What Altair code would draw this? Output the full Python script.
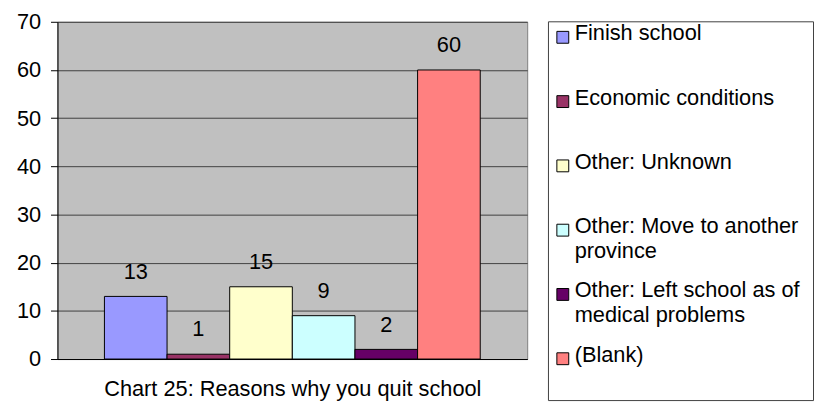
import altair as alt
import pandas as pd

reasons = ["Finish school", "Economic conditions", "Other: Unknown",
           "Other: Move to another province",
           "Other: Left school as of medical problems", "(Blank)"]
counts = [13, 1, 15, 9, 2, 60]
colors = ["#9999FF", "#993366", "#FFFFCC", "#CCFFFF", "#660066", "#FF8080"]
legend_labels = ["Finish school", "Economic conditions", "Other: Unknown",
                 "Other: Move to another\nprovince",
                 "Other: Left school as of\nmedical problems", "(Blank)"]
y_ticks = [0, 10, 20, 30, 40, 50, 60, 70]
title_text = "Chart 25: Reasons why you quit school"

FONT = "Liberation Sans"
FS = 22

bars_df = pd.DataFrame({"reason": reasons, "count": counts})
legend_df = pd.DataFrame({"reason": reasons, "label": legend_labels})

color = alt.Color("reason:N", scale=alt.Scale(domain=reasons, range=colors), legend=None)

x = alt.X("reason:N", sort=reasons,
          scale=alt.Scale(paddingInner=0, paddingOuter=0.75),
          axis=alt.Axis(labels=False, ticks=False, grid=False, domainColor="black",
                        title=title_text, titleFont=FONT, titleFontSize=FS,
                        titleFontWeight="normal", titleColor="black", titlePadding=20))
y = alt.Y("count:Q", scale=alt.Scale(domain=[0, 70], nice=False),
          axis=alt.Axis(values=y_ticks, title=None, domainColor="black", tickColor="black",
                        tickSize=7, labelFont=FONT, labelFontSize=FS, labelColor="black",
                        labelPadding=10, gridColor="#404040", gridOpacity=1, gridWidth=1))

bars = alt.Chart(bars_df).mark_bar(stroke="black", strokeWidth=1, opacity=1).encode(
    x=x, y=y, color=color)
labels = alt.Chart(bars_df).mark_text(dy=-18, baseline="alphabetic", fontSize=FS, font=FONT,
                                      color="black").encode(x=x, y=y, text="count:Q")
plot = alt.layer(bars, labels).properties(
    width=475, height=341,
    view=alt.ViewBackground(fill="#C0C0C0", stroke="#808080", strokeWidth=1))

ly = alt.Y("reason:N", sort=reasons,
           scale=alt.Scale(type="point", padding=0.446, align=0.21), axis=None)
swatches = alt.Chart(legend_df).mark_square(size=144, stroke="black", strokeWidth=1,
                                            opacity=1, yOffset=4).encode(
    x=alt.value(15), y=ly, color=color)
names = alt.Chart(legend_df).mark_text(align="left", baseline="middle", font=FONT,
                                       fontSize=FS, lineBreak="\n", lineHeight=25,
                                       color="black").encode(
    x=alt.value(27), y=ly, text="label:N")
legend = alt.layer(swatches, names).properties(
    width=268, height=383,
    view=alt.ViewBackground(fill="white", stroke="#404040", strokeWidth=1))

chart = alt.hconcat(plot, legend, spacing=19, center=True).properties(
    padding={"left": 8, "top": 0, "right": 0, "bottom": 0})

chart.save("out.html", embed_options={"renderer": "svg", "actions": False})
